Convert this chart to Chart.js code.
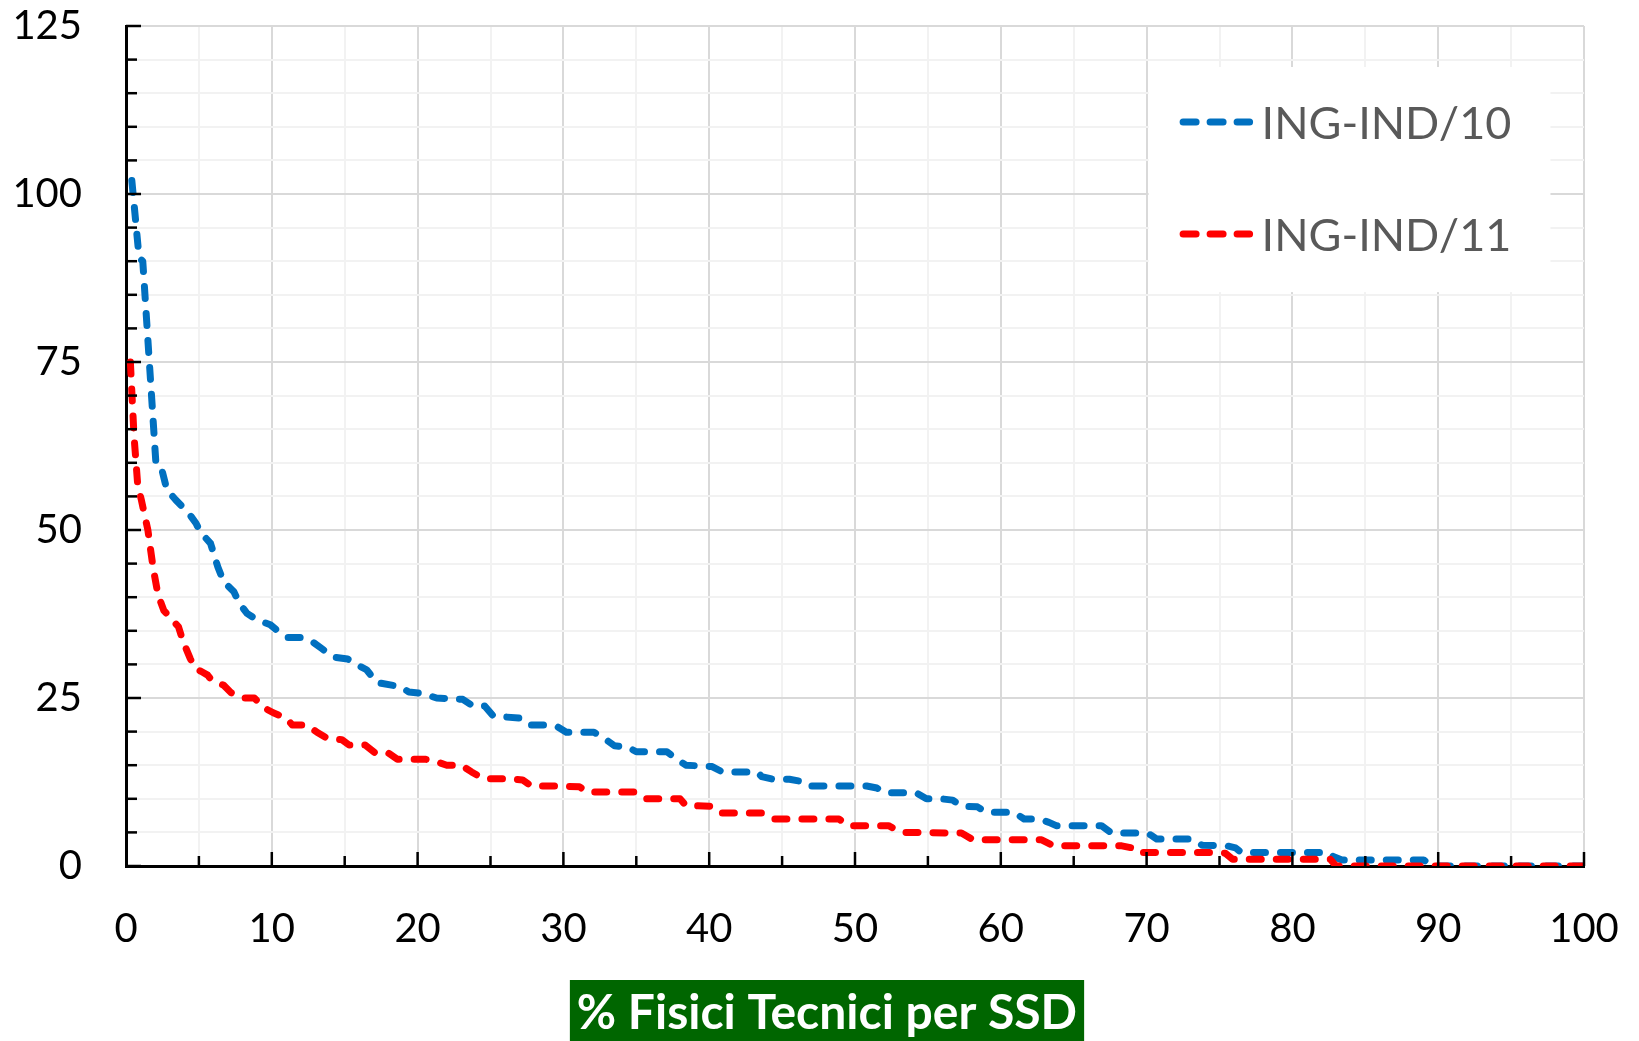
<!DOCTYPE html>
<html>
<head>
<meta charset="utf-8">
<title>% Fisici Tecnici per SSD</title>
<script src="https://cdn.jsdelivr.net/npm/chart.js@4"></script>
<style>
  html, body { margin: 0; padding: 0; background: #ffffff; }
  #wrap { width: 1639px; height: 1041px; position: relative; }
</style>
</head>
<body>
<div id="wrap"><canvas id="chartSSD"></canvas></div>
<script>
// ---- data ----
const SERIES_NAMES = ["ING-IND/10", "ING-IND/11"];
const SERIES_COLORS = ["#0070C0", "#FF0000"];
const AXIS_TITLE = "% Fisici Tecnici per SSD";

const X_TICKS = [0, 10, 20, 30, 40, 50, 60, 70, 80, 90, 100];
const Y_TICKS = [0, 25, 50, 75, 100, 125];

// ING-IND/10
const ind10X = [0.4, 0.9, 1.15, 2.05, 2.4, 2.8, 3.4, 4.3, 4.8, 5.1, 5.8, 6.3, 6.7, 7.4, 7.8, 8.3, 9.0, 9.9,
  10.5, 11.1, 12.0, 12.7, 13.4, 14.2, 15.2, 15.8, 16.5, 17.2, 18.8, 19.4, 20.3, 21.3, 23.1, 23.8, 24.6,
  25.2, 27.1, 27.7, 28.8, 29.6, 30.2, 32.1, 32.8, 33.5, 34.4, 35.0, 37.1, 37.7, 38.4, 40.2, 40.9, 43.3,
  43.6, 44.4, 45.5, 46.3, 46.8, 50.8, 51.5, 52.1, 54.2, 54.9, 55.9, 56.7, 57.3, 58.4, 59.0, 60.9, 61.6,
  62.6, 63.3, 63.8, 66.9, 67.6, 70.0, 70.3, 70.7, 73.1, 73.8, 75.5, 76.1, 76.5, 82.5, 82.8, 83.4, 89.0,
  89.6, 100];
const ind10Y = [102, 90.5, 90, 60, 59.5, 56, 54.5, 52.5, 51, 49.7, 48, 44.5, 42.3, 40.8, 39, 37.6, 36.6, 35.9,
  34.8, 34, 34, 33.5, 32.4, 31.1, 30.8, 30, 29.2, 27.3, 26.7, 25.9, 25.7, 25, 24.8, 23.8, 23.8,
  22.3, 22, 21, 21, 20.7, 19.9, 19.9, 19, 17.9, 17.7, 17, 17, 16, 15, 14.8, 14, 14,
  13.3, 12.9, 12.9, 12.6, 11.9, 11.9, 11.6, 10.9, 10.9, 10, 10, 9.8, 8.9, 8.8, 8, 8, 7,
  7, 6.5, 6, 6, 4.9, 4.9, 4.6, 4, 4, 3.1, 3, 2.7, 2, 2, 1.4, 0.9, 0.9,
  0, 0];

// ING-IND/11
const ind11X = [0.3, 0.55, 0.8, 1.05, 1.5, 1.85, 2.2, 2.6, 3.1, 3.6, 3.9, 4.4, 4.7, 5.2, 5.6, 5.9, 6.7, 7.2,
  8.0, 8.8, 9.5, 10.1, 11.0, 11.4, 12.4, 13.1, 13.8, 14.8, 15.3, 16.4, 17.1, 18.0, 18.6, 20.5, 21.3, 22.0,
  23.0, 23.7, 24.5, 26.3, 27.2, 27.8, 29.7, 31.1, 31.6, 35.0, 35.7, 38.0, 38.4, 40.1, 40.7, 43.6, 44.4,
  48.9, 49.5, 52.3, 53.2, 57.3, 58.1, 62.8, 63.6, 68.3, 69.0, 69.3, 74.7, 75.4, 75.9, 82.6, 83.0, 100];
const ind11Y = [75, 64, 56.8, 54.5, 50, 44.5, 40.3, 38, 36.8, 35.6, 33.5, 30.9, 29.5, 28.9, 28.4, 27.6, 26.9, 25.8,
  25, 25, 23.5, 22.8, 22, 21, 21, 19.9, 19, 18.8, 18, 18, 16.8, 16.8, 15.9, 15.9, 15.5, 15,
  15, 14, 13, 13, 12.8, 11.9, 11.9, 11.8, 11, 11, 10, 10, 9, 8.9, 7.9, 7.9, 7,
  7, 6, 6, 5, 4.9, 3.9, 3.9, 3, 3, 2.7, 2, 2, 1.9, 1, 1, 0, 0];

const FONT = "Lato, 'Open Sans', sans-serif";
const LINE_DASH = [12, 15];


function toPoints(xs, ys) {
  return xs.map((x, i) => ({ x: x, y: ys[i] }));
}


// axis tick marks drawn inside the plot, like the original
const insideTicks = {
  id: "insideTicks",
  afterDatasetsDraw(chart) {
    const { ctx, chartArea, scales } = chart;
    ctx.save();
    ctx.strokeStyle = "#000000";
    ctx.lineWidth = 2.5;

    scales.y.ticks.forEach((t) => {
      const y = scales.y.getPixelForValue(t.value);
      const len = Y_TICKS.includes(t.value) ? 15 : 11;
      ctx.beginPath();
      ctx.moveTo(chartArea.left, y);
      ctx.lineTo(chartArea.left + len, y);
      ctx.stroke();
    });

    scales.x.ticks.forEach((t) => {
      if (t.value === 0) return;
      const x = scales.x.getPixelForValue(t.value);
      const len = X_TICKS.includes(t.value) ? 14 : 10;
      ctx.beginPath();
      ctx.moveTo(x, chartArea.bottom);
      ctx.lineTo(x, chartArea.bottom - len);
      ctx.stroke();
    });
    ctx.restore();
  },
};


// legend box sitting inside the plot area, top right
const boxLegend = {
  id: "boxLegend",
  afterDraw(chart) {
    const { ctx, scales } = chart;
    const left = scales.x.getPixelForValue(70) + 2;
    const right = scales.x.getPixelForValue(97.7);
    const top = scales.y.getPixelForValue(118.9);
    const bottom = scales.y.getPixelForValue(85.4);

    ctx.save();
    ctx.fillStyle = "#ffffff";
    ctx.fillRect(left, top, right - left, bottom - top);

    SERIES_NAMES.forEach((name, i) => {
      const y = top + 55 + i * 112;
      const x0 = left + 31;
      ctx.strokeStyle = SERIES_COLORS[i];
      ctx.lineWidth = 7;
      ctx.lineCap = "round";
      ctx.setLineDash([13, 14]);
      ctx.beginPath();
      ctx.moveTo(x0 + 3.5, y);
      ctx.lineTo(x0 + 70, y);
      ctx.stroke();

      ctx.setLineDash([]);
      ctx.fillStyle = "#595959";
      ctx.font = "45px " + FONT;
      ctx.textAlign = "left";
      ctx.textBaseline = "middle";
      ctx.fillText(name, x0 + 82, y + 2);
    });
    ctx.restore();
  },
};


// green axis title box under the x axis
const axisTitleBox = {
  id: "axisTitleBox",
  afterDraw(chart) {
    const { ctx } = chart;
    ctx.save();
    ctx.font = "bold 48px " + FONT;
    const w = ctx.measureText(AXIS_TITLE).width + 14;
    const cx = 827;
    const top = 980;
    const h = chart.height - top;

    ctx.fillStyle = "#006600";
    ctx.fillRect(cx - w / 2, top, w, h);

    ctx.fillStyle = "#ffffff";
    ctx.textAlign = "center";
    ctx.textBaseline = "middle";
    ctx.fillText(AXIS_TITLE, cx, top + h / 2 + 3);
    ctx.restore();
  },
};


function dropScalePadding(scale) {
  scale.paddingTop = 0;
  scale.paddingBottom = 0;
}


function initChart() {
  const ctx = document.getElementById("chartSSD");

  new Chart(ctx, {
    type: "line",
    data: {
      datasets: [
        {
          label: SERIES_NAMES[0],
          data: toPoints(ind10X, ind10Y),
          borderColor: SERIES_COLORS[0],
          order: 1,
        },
        {
          label: SERIES_NAMES[1],
          data: toPoints(ind11X, ind11Y),
          borderColor: SERIES_COLORS[1],
          order: 0,
        },
      ].map((ds) =>
        Object.assign(ds, {
          borderWidth: 7,
          borderDash: LINE_DASH,
          borderCapStyle: "round",
          borderJoinStyle: "round",
          pointRadius: 0,
          tension: 0,
          fill: false,
        })
      ),
    },
    options: {
      responsive: true,
      maintainAspectRatio: false,
      animation: false,
      devicePixelRatio: 1,
      layout: {
        padding: { top: 26, right: 55, left: 0, bottom: 0 },
      },
      plugins: {
        legend: { display: false },
        tooltip: { enabled: false },
        title: { display: false },
      },
      scales: {
        x: {
          type: "linear",
          min: 0,
          max: 100,
          afterFit(scale) {
            scale.height = 175;
            scale.paddingRight = 0;
            scale.paddingLeft = 0;
          },
          ticks: {
            stepSize: 5,
            autoSkip: false,
            maxRotation: 0,
            padding: 39,
            color: "#000000",
            font: { family: FONT, size: 40 },
            callback: (v) => (X_TICKS.includes(v) ? String(v) : ""),
          },
          grid: {
            drawTicks: false,
            lineWidth: 2,
            color: (c) => (c.tick && X_TICKS.includes(c.tick.value) ? "#d9d9d9" : "#f2f2f2"),
          },
          border: { display: true, color: "#000000", width: 3 },
        },
        y: {
          min: 0,
          max: 125,
          afterFit(scale) {
            scale.width = 126;
            dropScalePadding(scale);
          },
          ticks: {
            stepSize: 5,
            autoSkip: false,
            padding: 44,
            color: "#000000",
            font: { family: FONT, size: 40 },
            callback: (v) => (Y_TICKS.includes(v) ? String(v) : ""),
          },
          grid: {
            drawTicks: false,
            lineWidth: 2,
            color: (c) => (c.tick && Y_TICKS.includes(c.tick.value) ? "#d9d9d9" : "#f2f2f2"),
          },
          border: { display: true, color: "#000000", width: 3 },
        },
      },
    },
    plugins: [insideTicks, boxLegend, axisTitleBox],
  });
}

document.addEventListener("DOMContentLoaded", initChart);
</script>
</body>
</html>
